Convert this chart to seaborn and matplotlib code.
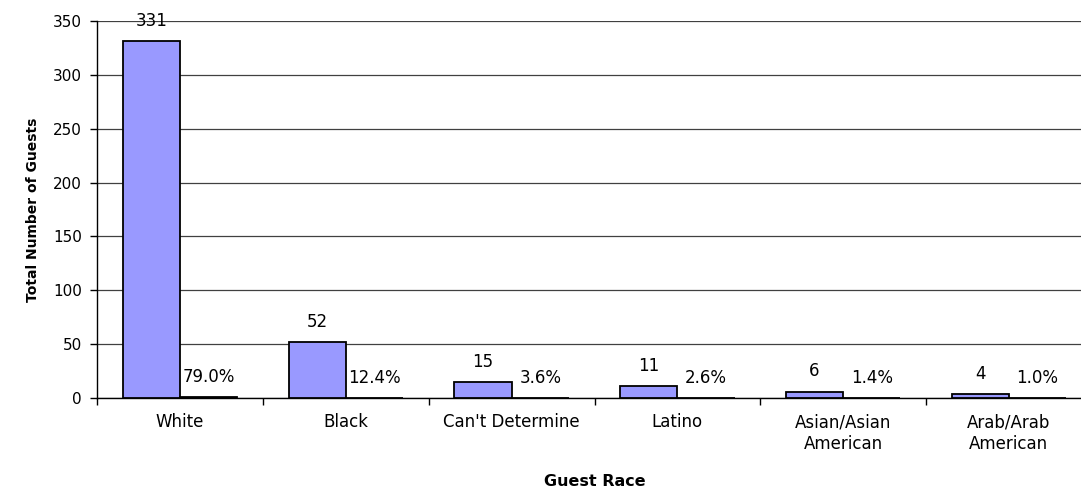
import matplotlib
matplotlib.use("Agg")
import matplotlib.pyplot as plt
import seaborn as sns
import pandas as pd
from matplotlib.ticker import FixedLocator, MultipleLocator

# Guest race breakdown: counts and share of all guests
races = ["White", "Black", "Can't Determine", "Latino",
         "Asian/Asian\nAmerican", "Arab/Arab\nAmerican"]
counts = [331, 52, 15, 11, 6, 4]
percents = [79.0, 12.4, 3.6, 2.6, 1.4, 1.0]
series_names = ["Count", "Percent"]
y_ticks = [0, 50, 100, 150, 200, 250, 300, 350]

sns.set_style("white")
plt.rcParams["font.family"] = ["DejaVu Sans"]
for key in ["text.color", "axes.labelcolor", "xtick.color", "ytick.color"]:
    plt.rcParams[key] = "black"

# Long-form table: percentage series is plotted as a fraction on the same axis
df = pd.DataFrame({
    "race": races + races,
    "series": [series_names[0]] * len(races) + [series_names[1]] * len(races),
    "value": counts + [p / 100 for p in percents],
})

fig = plt.figure(figsize=(10.81, 4.92), dpi=100)
ax = fig.add_axes([97.25 / 1081, (492 - 398) / 492, 994.5 / 1081, 377 / 492])

bar_color = "#9999FF"
sns.barplot(data=df, x="race", y="value", hue="series", order=races,
            hue_order=series_names, palette=[bar_color, bar_color],
            saturation=1, width=0.69, edgecolor="black", linewidth=1.3,
            legend=False, ax=ax, zorder=3)

ax.set_xlim(-0.5, len(races) - 0.5)
ax.set_ylim(0, 350)
ax.yaxis.set_major_locator(FixedLocator(y_ticks))
ax.yaxis.grid(True, color="#404040", linewidth=0.9, zorder=0)
ax.xaxis.grid(False)
ax.set_axisbelow(True)

for side in ["top", "right"]:
    ax.spines[side].set_visible(False)
for side in ["left", "bottom"]:
    ax.spines[side].set_color("black")
    ax.spines[side].set_linewidth(1.0)

# Category boundary ticks on the x axis, labels centered without marks
ax.xaxis.set_minor_locator(MultipleLocator(1, offset=0.5))
ax.tick_params(axis="x", which="major", length=0, pad=11, labelsize=12)
ax.tick_params(axis="x", which="minor", length=5, width=1, color="black",
               direction="out", bottom=True)
ax.tick_params(axis="y", which="major", length=5, width=1, color="black",
               direction="out", left=True, pad=6, labelsize=11)
for lbl in ax.get_xticklabels():
    lbl.set_linespacing(1.3)

ax.set_ylabel("Total Number of Guests", fontsize=10, fontweight="bold",
              labelpad=9)
ax.set_xlabel("Guest Race", fontsize=11.5, fontweight="bold")
ax.xaxis.set_label_coords(0.5, (398 - 481) / 377)
ax.xaxis.label.set_verticalalignment("center")

# Value labels above each bar
ax.bar_label(ax.containers[0], labels=[str(c) for c in counts],
             padding=8, fontsize=12, zorder=5)
ax.bar_label(ax.containers[1], labels=[f"{p:.1f}%" for p in percents],
             padding=8, fontsize=12, zorder=5)

fig.savefig("out.png", dpi=100)
